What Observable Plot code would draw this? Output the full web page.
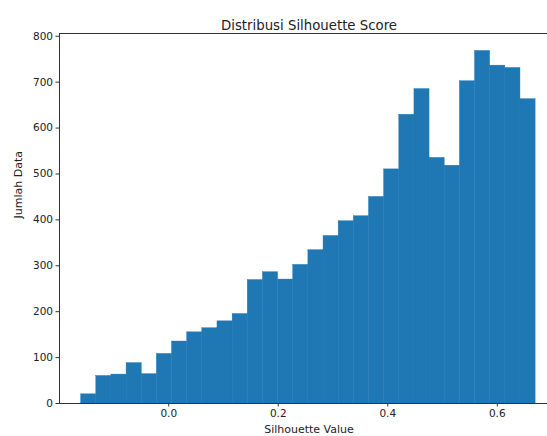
<!DOCTYPE html>
<html>
<head>
<meta charset="utf-8">
<script src="https://cdn.jsdelivr.net/npm/d3@7"></script>
<script src="https://cdn.jsdelivr.net/npm/@observablehq/plot@0.6"></script>
<style>
  html, body { margin: 0; padding: 0; background: #fff; }
  svg { display: block; }
</style>
</head>
<body>
<div id="chart"></div>
<script>
const binEdges = [-0.160, -0.1323, -0.1047, -0.0770, -0.0493, -0.0217, 0.0060, 0.0337, 0.0613, 0.0890,
  0.1167, 0.1443, 0.1720, 0.1997, 0.2273, 0.2550, 0.2827, 0.3103, 0.3380, 0.3657,
  0.3933, 0.4210, 0.4487, 0.4763, 0.5040, 0.5317, 0.5593, 0.5870, 0.6147, 0.6423, 0.6700];
const counts = [20, 60, 63, 88, 64, 108, 135, 155, 164, 179,
  195, 269, 286, 270, 302, 334, 365, 397, 408, 450,
  510, 629, 685, 535, 518, 702, 768, 736, 731, 663];
const xTicks = [0.0, 0.2, 0.4, 0.6];
const yTicks = [0, 100, 200, 300, 400, 500, 600, 700, 800];
const titleText = "Distribusi Silhouette Score";
const xLabel = "Silhouette Value";
const yLabel = "Jumlah Data";

const bins = counts.map((c, i) => ({x1: binEdges[i], x2: binEdges[i + 1], count: c}));
const xMin = -0.1995, xMax = 0.6917, yMax = 806;

const chart = Plot.plot({
  width: 547,
  height: 436,
  marginLeft: 59,
  marginRight: 0,
  marginTop: 33,
  marginBottom: 33,
  style: {fontFamily: "DejaVu Sans", color: "#222", background: "#fff"},
  x: {domain: [xMin, xMax]},
  y: {domain: [0, yMax]},
  marks: [
    Plot.rectY(bins, {x1: "x1", x2: "x2", y: "count", fill: "#1f77b4", stroke: "#1f77b4", strokeWidth: 0.4, inset: 0}),
    Plot.ruleX([xMin], {stroke: "#333", strokeWidth: 1}),
    Plot.ruleY([0, yMax], {stroke: "#333", strokeWidth: 1}),
    Plot.axisX({ticks: xTicks, tickFormat: d3.format(".1f"), tickSize: 3.5, tickPadding: 3, fontSize: 10.5, label: null, stroke: "#333"}),
    Plot.axisY({ticks: yTicks, tickSize: 3.5, tickPadding: 3, fontSize: 10.5, label: null, stroke: "#333"}),
    Plot.text([titleText], {frameAnchor: "top", dy: -13, dx: 5.5, fontSize: 13.3, fill: "#222"}),
    Plot.text([xLabel], {frameAnchor: "bottom", dy: 29, dx: 5.5, fontSize: 11, fill: "#222"}),
    Plot.text([yLabel], {frameAnchor: "left", dx: -41, rotate: -90, fontSize: 11, fill: "#222"})
  ]
});
document.getElementById("chart").appendChild(chart);
</script>
</body>
</html>
